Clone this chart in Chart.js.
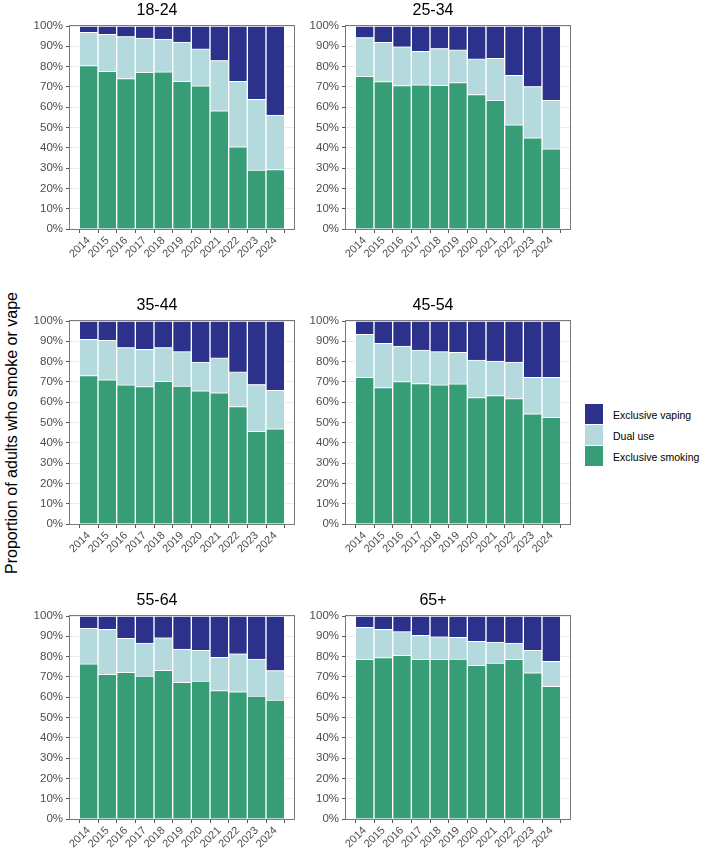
<!DOCTYPE html>
<html>
<head>
<meta charset="utf-8">
<script src="https://cdn.jsdelivr.net/npm/chart.js@4/dist/chart.umd.min.js"></script>
<style>
  html, body { margin: 0; padding: 0; background: #fff; }
  #wrap { position: relative; width: 709px; height: 852px; overflow: hidden; font-family: 'Liberation Sans', Arial, sans-serif; }
  #wrap canvas { position: absolute; }
  #ytitle {
    position: absolute; left: 12px; top: 433px; white-space: nowrap;
    font-size: 16px; color: #000;
    transform: translate(-50%, -50%) rotate(-90deg);
  }
  #legend { position: absolute; left: 585px; top: 404px; }
  .leg-row { display: flex; align-items: center; height: 21px; }
  .leg-box { width: 18px; height: 20px; margin-right: 10px; border-bottom: 1px solid #fff; }
  .leg-text { font-size: 10.5px; color: #000; }
</style>
</head>
<body>
<div id="wrap">
  <div id="ytitle">Proportion of adults who smoke or vape</div>
  <div id="legend"></div>
</div>
<script>
const years = [2014, 2015, 2016, 2017, 2018, 2019, 2020, 2021, 2022, 2023, 2024];
const yTicks = [0, 10, 20, 30, 40, 50, 60, 70, 80, 90, 100];

// values in %
const smoking1824 = [80.5, 77.7, 74.1, 77.2, 77.4, 72.8, 70.5, 58.2, 40.5, 29.0, 29.3];
const dual1824    = [16.4, 18.2, 20.7, 16.9, 16.2, 19.3, 18.2, 24.8, 32.3, 34.9, 26.8];
const vaping1824  = [3.1, 4.1, 5.2, 5.9, 6.4, 7.9, 11.3, 17.0, 27.2, 36.1, 43.9];

const smoking2534 = [75.2, 72.6, 70.7, 71.0, 70.8, 72.1, 66.2, 63.4, 51.3, 44.9, 39.5];
const dual2534    = [19.1, 19.4, 19.1, 16.5, 18.1, 16.1, 17.6, 20.7, 24.4, 25.3, 23.9];
const vaping2534  = [5.7, 8.0, 10.2, 12.5, 11.1, 11.8, 16.2, 15.9, 24.3, 29.8, 36.6];

const smoking3544 = [73.1, 71.0, 68.5, 67.7, 70.3, 67.9, 65.6, 64.6, 57.9, 45.6, 46.9];
const dual3544    = [17.9, 19.5, 18.4, 18.4, 16.6, 17.0, 14.2, 17.2, 17.0, 23.1, 19.0];
const vaping3544  = [9.0, 9.5, 13.1, 13.9, 13.1, 15.1, 20.2, 18.2, 25.1, 31.3, 34.1];

const smoking4554 = [72.3, 67.2, 70.2, 69.2, 68.5, 69.0, 62.3, 63.3, 61.8, 54.3, 52.5];
const dual4554    = [21.1, 21.8, 17.5, 16.5, 16.4, 15.6, 18.5, 16.9, 18.0, 18.0, 19.8];
const vaping4554  = [6.6, 11.0, 12.3, 14.3, 15.1, 15.4, 19.2, 19.8, 20.2, 27.7, 27.7];

const smoking5564 = [76.4, 71.3, 72.3, 70.4, 73.2, 67.3, 68.0, 63.2, 62.7, 60.6, 58.6];
const dual5564    = [17.5, 22.1, 16.7, 16.3, 16.1, 16.4, 15.1, 16.4, 18.7, 18.2, 14.5];
const vaping5564  = [6.1, 6.6, 11.0, 13.3, 10.7, 16.3, 16.9, 20.4, 18.6, 21.2, 26.9];

const smoking65   = [78.7, 79.5, 80.6, 78.7, 78.7, 78.8, 75.7, 76.8, 78.7, 72.0, 65.4];
const dual65      = [15.7, 13.9, 11.7, 11.8, 11.1, 10.7, 11.8, 10.4, 8.0, 11.1, 12.3];
const vaping65    = [5.6, 6.6, 7.7, 9.5, 10.2, 10.5, 12.5, 12.8, 13.3, 16.9, 22.3];

const seriesNames = ['Exclusive smoking', 'Dual use', 'Exclusive vaping'];
const seriesColors = ['#379d76', '#b4dadd', '#2c318b'];

const panels = [
  { title: '18-24', series: [smoking1824, dual1824, vaping1824], left: 20,  top: 0 },
  { title: '25-34', series: [smoking2534, dual2534, vaping2534], left: 296, top: 0 },
  { title: '35-44', series: [smoking3544, dual3544, vaping3544], left: 20,  top: 295 },
  { title: '45-54', series: [smoking4554, dual4554, vaping4554], left: 296, top: 295 },
  { title: '55-64', series: [smoking5564, dual5564, vaping5564], left: 20,  top: 590 },
  { title: '65+',   series: [smoking65, dual65, vaping65],       left: 296, top: 590 }
];

const FONT = "'Liberation Sans', Arial, sans-serif";
const wrap = document.getElementById('wrap');

// box around each panel
const panelBorder = {
  id: 'panelBorder',
  afterDraw(chart) {
    const a = chart.chartArea;
    const ctx = chart.ctx;
    ctx.save();
    ctx.strokeStyle = '#7a7a7a';
    ctx.lineWidth = 1;
    ctx.strokeRect(Math.round(a.left) - 0.5, Math.round(a.top) - 0.5,
      Math.round(a.right - a.left) + 1, Math.round(a.bottom - a.top) + 1);
    ctx.restore();
  }
};

panels.forEach(p => {
  const cv = document.createElement('canvas');
  cv.width = 280;
  cv.height = 262;
  cv.style.left = p.left + 'px';
  cv.style.top = p.top + 'px';
  wrap.appendChild(cv);

  new Chart(cv.getContext('2d'), {
    type: 'bar',
    data: {
      datasets: p.series.map((vals, i) => ({
        label: seriesNames[i],
        data: years.map((yr, j) => ({ x: yr, y: vals[j] })),
        backgroundColor: seriesColors[i],
        borderColor: '#ffffff',
        borderWidth: 1,
        categoryPercentage: 1,
        barPercentage: 1
      }))
    },
    options: {
      responsive: false,
      devicePixelRatio: 1,
      animation: false,
      layout: { padding: { left: 0, right: 6, top: 0, bottom: 0 } },
      plugins: {
        legend: { display: false },
        tooltip: { enabled: false },
        title: {
          display: true,
          text: p.title,
          color: '#000',
          font: { family: FONT, size: 16, weight: 'normal', lineHeight: 1 },
          padding: { top: 3, bottom: 7 }
        }
      },
      scales: {
        x: {
          type: 'linear',
          stacked: true,
          min: 2013,
          max: 2025,
          offset: false,
          afterBuildTicks: (s) => { s.ticks = s.ticks.filter(t => t.value >= 2014 && t.value <= 2024); },
          afterFit: (s) => { s.height = 33; },
          ticks: {
            stepSize: 1,
            autoSkip: false,
            minRotation: 45,
            maxRotation: 45,
            padding: 1,
            color: '#4d4d4d',
            font: { family: FONT, size: 11 },
            callback: (v) => String(v)
          },
          grid: { drawOnChartArea: false, drawTicks: true, tickLength: 4, tickColor: '#555' },
          border: { display: false }
        },
        y: {
          stacked: true,
          min: 0,
          max: 100,
          afterFit: (s) => { s.width = 50; },
          afterBuildTicks: (s) => { s.ticks = yTicks.map(v => ({ value: v })); },
          ticks: {
            stepSize: 10,
            padding: 3,
            color: '#4d4d4d',
            font: { family: FONT, size: 11.5 },
            callback: (v) => v + '%'
          },
          grid: { color: '#ebebeb', drawTicks: true, tickLength: 4, tickColor: '#555' },
          border: { display: false }
        }
      }
    },
    plugins: [panelBorder]
  });
});

// legend, top entry is the top of the stack
const legendEl = document.getElementById('legend');
[2, 1, 0].forEach(i => {
  const row = document.createElement('div');
  row.className = 'leg-row';
  row.innerHTML = `<div class="leg-box" style="background:${seriesColors[i]}"></div><span class="leg-text">${seriesNames[i]}</span>`;
  legendEl.appendChild(row);
});
</script>
</body>
</html>
